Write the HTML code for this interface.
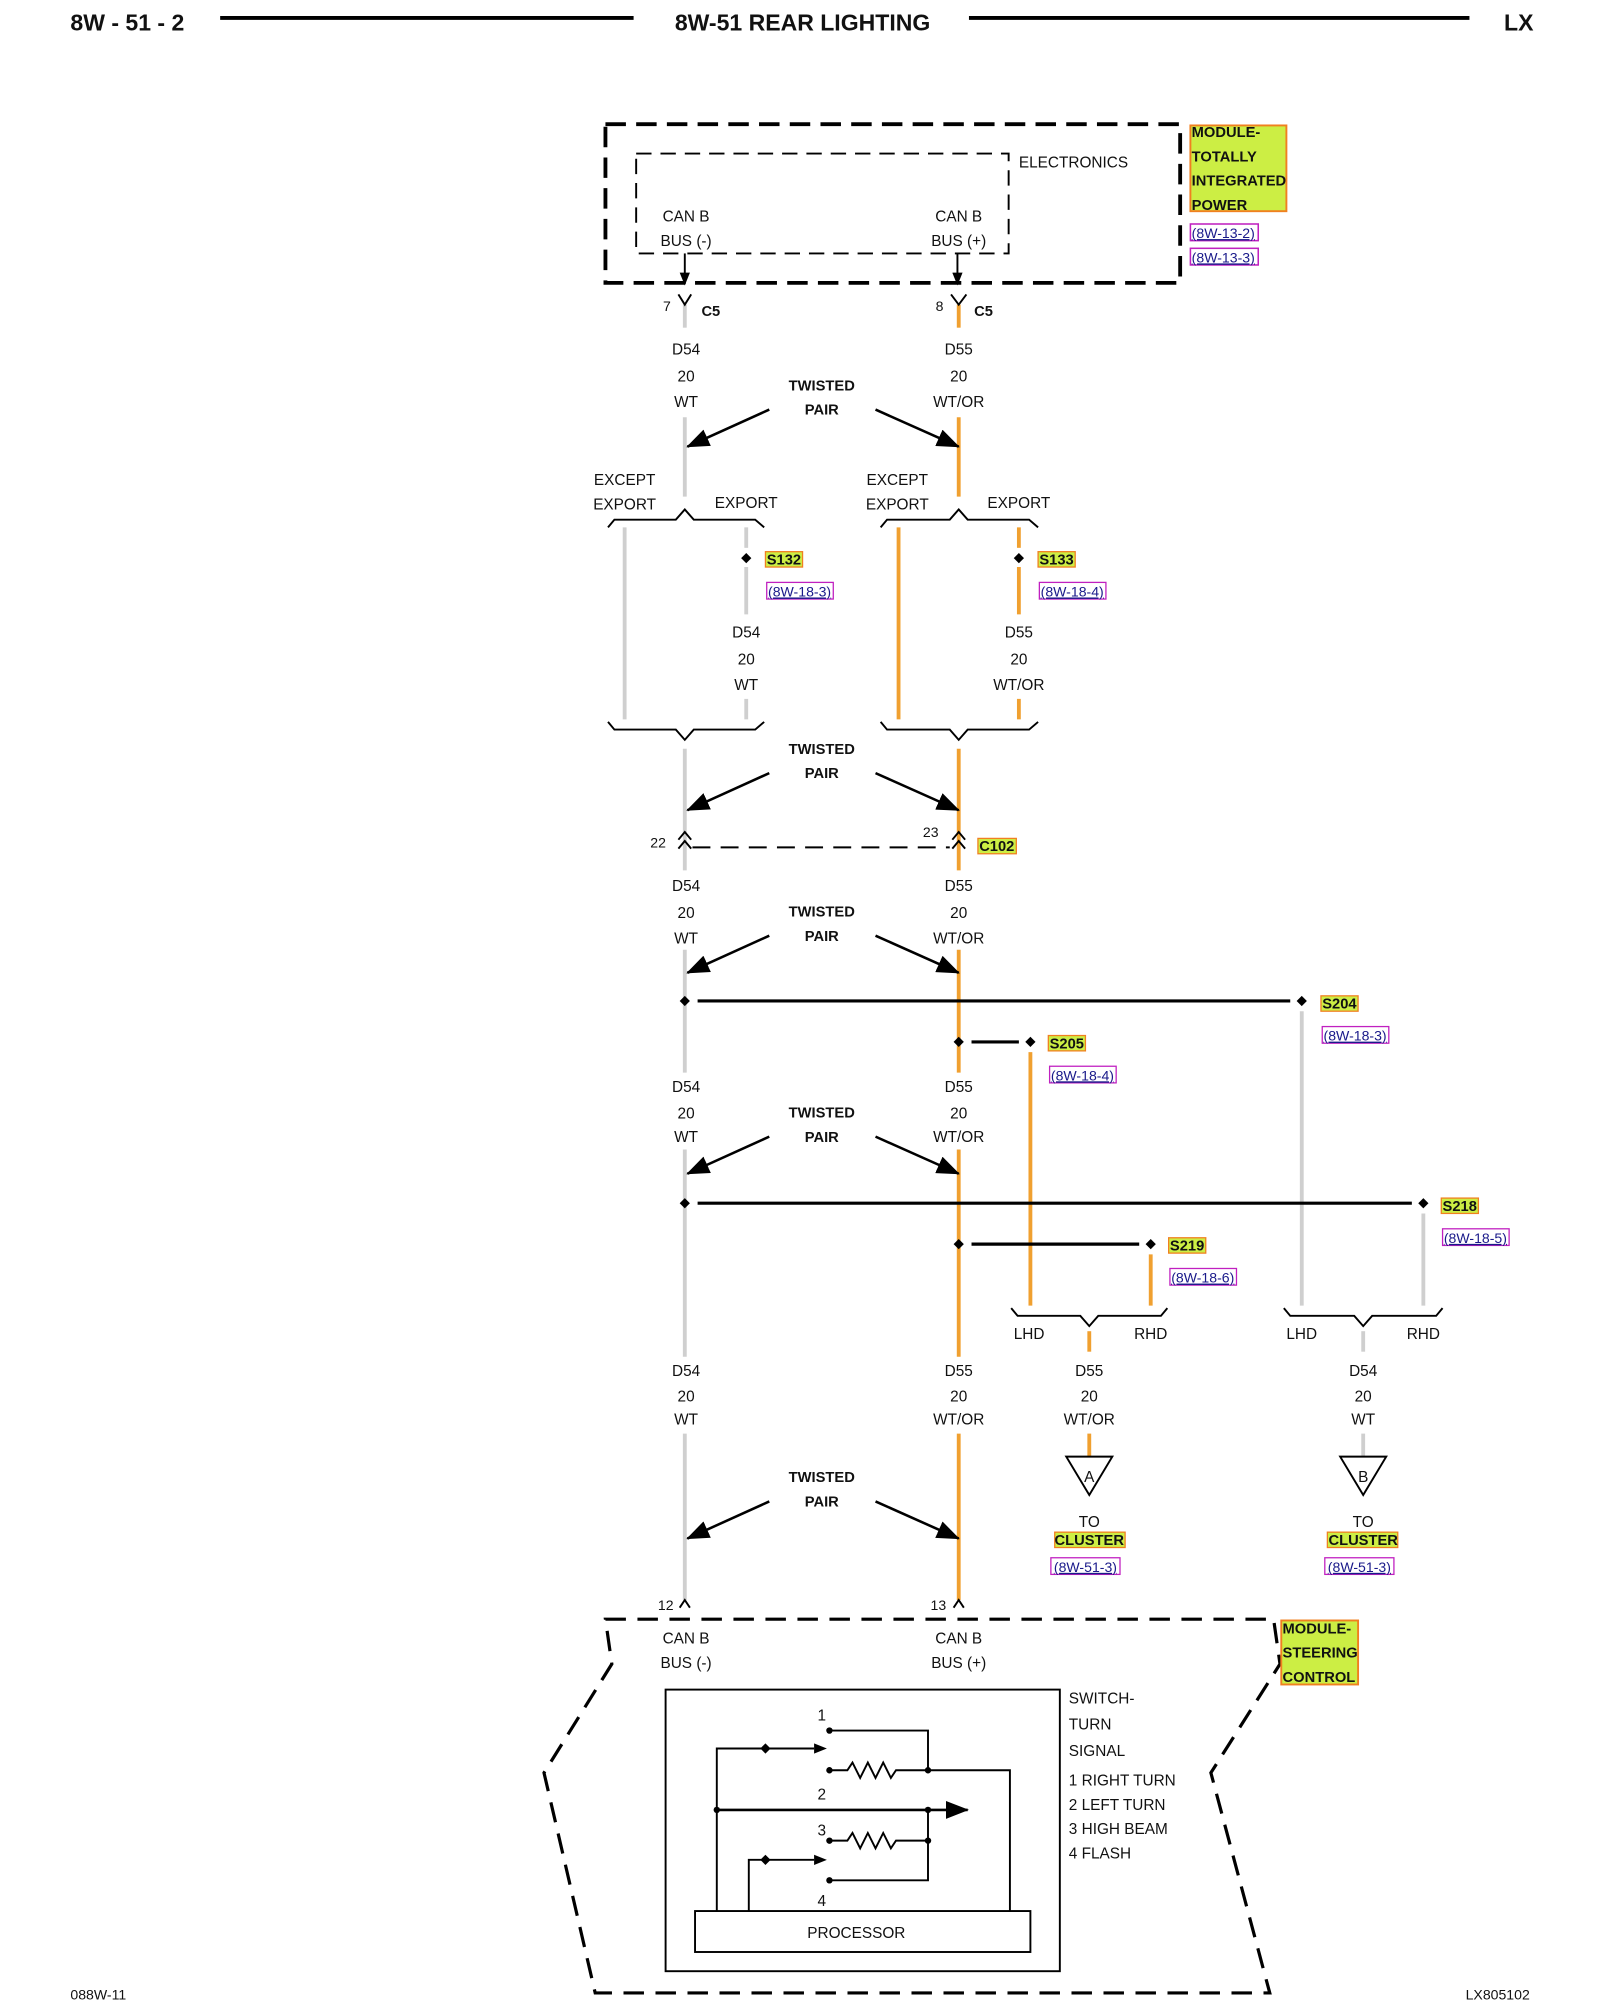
<!DOCTYPE html>
<html><head><meta charset="utf-8"><style>
html,body{margin:0;padding:0;background:#fff}
svg{display:block}
text{font-family:"Liberation Sans",sans-serif;font-size:12px;fill:#111}
.b{font-weight:bold;font-size:11.5px}
.c{text-anchor:middle}
.ref{font-size:11px;fill:#1a1a8a;text-decoration:underline}
</style></head><body>
<svg width="1600" height="2000" viewBox="0 0 1250 1562.5" xmlns="http://www.w3.org/2000/svg">
<defs>
<marker id="ah" markerWidth="10" markerHeight="8" refX="9" refY="4" orient="auto" markerUnits="userSpaceOnUse"><path d="M0,0 L10,4 L0,8z" fill="#000"/></marker>
<marker id="big" markerWidth="18" markerHeight="14" refX="17" refY="7" orient="auto" markerUnits="userSpaceOnUse"><path d="M0,0 L18,7 L0,14z" fill="#000"/></marker>
</defs>
<!-- header -->
<text x="55" y="24" style="font-size:18px;font-weight:bold">8W - 51 - 2</text>
<line x1="172" y1="14" x2="495" y2="14" stroke="#000" stroke-width="3"/>
<text x="627" y="24" class="c" style="font-size:18px;font-weight:bold">8W-51 REAR LIGHTING</text>
<line x1="757" y1="14" x2="1148" y2="14" stroke="#000" stroke-width="3"/>
<text x="1175" y="24" style="font-size:18px;font-weight:bold">LX</text>

<!-- top module -->
<rect x="473" y="97" width="449" height="124" fill="none" stroke="#000" stroke-width="3" stroke-dasharray="16,8"/>
<rect x="497" y="120" width="291" height="78" fill="none" stroke="#000" stroke-width="1.5" stroke-dasharray="12,7"/>
<text x="796" y="131">ELECTRONICS</text>
<rect x="930" y="98" width="75" height="67" fill="#ccee44" stroke="#f08020" stroke-width="1.5"/>
<text x="931" y="107" class="b">MODULE-</text>
<text x="931" y="126" class="b">TOTALLY</text>
<text x="931" y="145" class="b">INTEGRATED</text>
<text x="931" y="164" class="b">POWER</text>
<rect x="930" y="175" width="53" height="13" fill="none" stroke="#c020c0" stroke-width="1.2"/>
<text x="931" y="186" class="ref">(8W-13-2)</text>
<rect x="930" y="194" width="53" height="13" fill="none" stroke="#c020c0" stroke-width="1.2"/>
<text x="931" y="205" class="ref">(8W-13-3)</text>
<text x="536" y="173" class="c">CAN B</text><text x="536" y="192" class="c">BUS (-)</text>
<text x="749" y="173" class="c">CAN B</text><text x="749" y="192" class="c">BUS (+)</text>
<line x1="535" y1="198" x2="535" y2="222" stroke="#000" stroke-width="1.5" marker-end="url(#ah)"/>
<line x1="748" y1="198" x2="748" y2="222" stroke="#000" stroke-width="1.5" marker-end="url(#ah)"/>

<!-- main wires -->
<g stroke-width="3" fill="none">
<line x1="535" y1="238" x2="535" y2="256" stroke="#cfcfcf"/>
<line x1="749" y1="238" x2="749" y2="256" stroke="#f0a030"/>
<line x1="535" y1="326" x2="535" y2="388" stroke="#cfcfcf"/>
<line x1="749" y1="326" x2="749" y2="388" stroke="#f0a030"/>
<line x1="488" y1="412" x2="488" y2="562" stroke="#cfcfcf"/>
<line x1="583" y1="412" x2="583" y2="428" stroke="#cfcfcf"/>
<line x1="583" y1="443" x2="583" y2="480" stroke="#cfcfcf"/>
<line x1="583" y1="546" x2="583" y2="562" stroke="#cfcfcf"/>
<line x1="702" y1="412" x2="702" y2="562" stroke="#f0a030"/>
<line x1="796" y1="412" x2="796" y2="428" stroke="#f0a030"/>
<line x1="796" y1="443" x2="796" y2="480" stroke="#f0a030"/>
<line x1="796" y1="546" x2="796" y2="562" stroke="#f0a030"/>
<line x1="535" y1="585" x2="535" y2="680" stroke="#cfcfcf"/>
<line x1="749" y1="585" x2="749" y2="680" stroke="#f0a030"/>
<line x1="535" y1="742" x2="535" y2="838" stroke="#cfcfcf"/>
<line x1="749" y1="742" x2="749" y2="838" stroke="#f0a030"/>
<line x1="535" y1="898" x2="535" y2="1060" stroke="#cfcfcf"/>
<line x1="749" y1="898" x2="749" y2="1060" stroke="#f0a030"/>
<line x1="535" y1="1120" x2="535" y2="1250" stroke="#cfcfcf"/>
<line x1="749" y1="1120" x2="749" y2="1250" stroke="#f0a030"/>
<line x1="1017" y1="790" x2="1017" y2="1020" stroke="#cfcfcf"/>
<line x1="805" y1="822" x2="805" y2="1020" stroke="#f0a030"/>
<line x1="1112" y1="948" x2="1112" y2="1020" stroke="#cfcfcf"/>
<line x1="899" y1="980" x2="899" y2="1020" stroke="#f0a030"/>
<line x1="851" y1="1040" x2="851" y2="1056" stroke="#f0a030"/>
<line x1="1065" y1="1040" x2="1065" y2="1056" stroke="#cfcfcf"/>
<line x1="851" y1="1120" x2="851" y2="1138" stroke="#f0a030"/>
<line x1="1065" y1="1120" x2="1065" y2="1138" stroke="#cfcfcf"/>
</g>

<!-- C5 connectors -->
<g stroke="#000" stroke-width="1.5" fill="none">
<path d="M530,230 L535,238 L540,230"/><path d="M743,230 L749,238 L755,230"/>
</g>
<text x="518" y="243" style="font-size:11px">7</text><text x="548" y="247" class="b">C5</text>
<text x="731" y="243" style="font-size:11px">8</text><text x="761" y="247" class="b">C5</text>

<!-- wire labels -->
<g class="c">
<text x="536" y="277" class="c">D54</text><text x="536" y="298" class="c">20</text><text x="536" y="318" class="c">WT</text>
<text x="749" y="277" class="c">D55</text><text x="749" y="298" class="c">20</text><text x="749" y="318" class="c">WT/OR</text>
<text x="583" y="498" class="c">D54</text><text x="583" y="519" class="c">20</text><text x="583" y="539" class="c">WT</text>
<text x="796" y="498" class="c">D55</text><text x="796" y="519" class="c">20</text><text x="796" y="539" class="c">WT/OR</text>
<text x="536" y="696" class="c">D54</text><text x="536" y="717" class="c">20</text><text x="536" y="737" class="c">WT</text>
<text x="749" y="696" class="c">D55</text><text x="749" y="717" class="c">20</text><text x="749" y="737" class="c">WT/OR</text>
<text x="536" y="853" class="c">D54</text><text x="536" y="874" class="c">20</text><text x="536" y="892" class="c">WT</text>
<text x="749" y="853" class="c">D55</text><text x="749" y="874" class="c">20</text><text x="749" y="892" class="c">WT/OR</text>
<text x="536" y="1075" class="c">D54</text><text x="536" y="1095" class="c">20</text><text x="536" y="1113" class="c">WT</text>
<text x="749" y="1075" class="c">D55</text><text x="749" y="1095" class="c">20</text><text x="749" y="1113" class="c">WT/OR</text>
<text x="851" y="1075" class="c">D55</text><text x="851" y="1095" class="c">20</text><text x="851" y="1113" class="c">WT/OR</text>
<text x="1065" y="1075" class="c">D54</text><text x="1065" y="1095" class="c">20</text><text x="1065" y="1113" class="c">WT</text>
</g>

<!-- twisted pairs -->
<g stroke="#000" stroke-width="2">
<line x1="601" y1="320" x2="537" y2="349" marker-end="url(#big)"/><line x1="684" y1="320" x2="749" y2="349" marker-end="url(#big)"/>
<line x1="601" y1="604" x2="537" y2="633" marker-end="url(#big)"/><line x1="684" y1="604" x2="749" y2="633" marker-end="url(#big)"/>
<line x1="601" y1="731" x2="537" y2="760" marker-end="url(#big)"/><line x1="684" y1="731" x2="749" y2="760" marker-end="url(#big)"/>
<line x1="601" y1="888" x2="537" y2="917" marker-end="url(#big)"/><line x1="684" y1="888" x2="749" y2="917" marker-end="url(#big)"/>
<line x1="601" y1="1173" x2="537" y2="1202" marker-end="url(#big)"/><line x1="684" y1="1173" x2="749" y2="1202" marker-end="url(#big)"/>
</g>
<g class="b">
<text x="642" y="305" class="b c">TWISTED</text><text x="642" y="324" class="b c">PAIR</text>
<text x="642" y="589" class="b c">TWISTED</text><text x="642" y="608" class="b c">PAIR</text>
<text x="642" y="716" class="b c">TWISTED</text><text x="642" y="735" class="b c">PAIR</text>
<text x="642" y="873" class="b c">TWISTED</text><text x="642" y="892" class="b c">PAIR</text>
<text x="642" y="1158" class="b c">TWISTED</text><text x="642" y="1177" class="b c">PAIR</text>
</g>

<!-- export forks -->
<text x="488" y="379" class="c">EXCEPT</text><text x="488" y="398" class="c">EXPORT</text><text x="583" y="397" class="c">EXPORT</text>
<text x="701" y="379" class="c">EXCEPT</text><text x="701" y="398" class="c">EXPORT</text><text x="796" y="397" class="c">EXPORT</text>
<g stroke="#000" stroke-width="1.5" fill="none">
<path d="M475,412 L480,406 L528,406 L535,398 L542,406 L590,406 L597,412"/>
<path d="M688,412 L693,406 L742,406 L749,398 L756,406 L804,406 L811,412"/>
<path d="M475,564 L480,570 L528,570 L535,578 L542,570 L590,570 L597,564"/>
<path d="M688,564 L693,570 L742,570 L749,578 L756,570 L804,570 L811,564"/>
<path d="M790,1022 L795,1028 L844,1028 L851,1036 L858,1028 L907,1028 L912,1022"/>
<path d="M1003,1022 L1008,1028 L1058,1028 L1065,1036 L1072,1028 L1122,1028 L1127,1022"/>
</g>

<!-- splices -->
<g fill="#000">
<path d="M583,432 l4,4 l-4,4 l-4,-4z"/><path d="M796,432 l4,4 l-4,4 l-4,-4z"/>
<path d="M535,778 l4,4 l-4,4 l-4,-4z"/><path d="M1017,778 l4,4 l-4,4 l-4,-4z"/>
<path d="M749,810 l4,4 l-4,4 l-4,-4z"/><path d="M805,810 l4,4 l-4,4 l-4,-4z"/>
<path d="M535,936 l4,4 l-4,4 l-4,-4z"/><path d="M1112,936 l4,4 l-4,4 l-4,-4z"/>
<path d="M749,968 l4,4 l-4,4 l-4,-4z"/><path d="M899,968 l4,4 l-4,4 l-4,-4z"/>
</g>
<g stroke="#000" stroke-width="2.5">
<line x1="545" y1="782" x2="1008" y2="782"/>
<line x1="759" y1="814" x2="796" y2="814"/>
<line x1="545" y1="940" x2="1103" y2="940"/>
<line x1="759" y1="972" x2="890" y2="972"/>
</g>
<g>
<rect x="598" y="431" width="29" height="12" fill="#ccee44" stroke="#f08020"/><text x="599" y="441" class="b">S132</text>
<rect x="599" y="455" width="52" height="13" fill="none" stroke="#c020c0"/><text x="600" y="466" class="ref">(8W-18-3)</text>
<rect x="811" y="431" width="29" height="12" fill="#ccee44" stroke="#f08020"/><text x="812" y="441" class="b">S133</text>
<rect x="812" y="455" width="52" height="13" fill="none" stroke="#c020c0"/><text x="813" y="466" class="ref">(8W-18-4)</text>
<rect x="764" y="655" width="30" height="12" fill="#ccee44" stroke="#f08020"/><text x="765" y="665" class="b">C102</text>
<rect x="1032" y="778" width="29" height="12" fill="#ccee44" stroke="#f08020"/><text x="1033" y="788" class="b">S204</text>
<rect x="1033" y="802" width="52" height="13" fill="none" stroke="#c020c0"/><text x="1034" y="813" class="ref">(8W-18-3)</text>
<rect x="819" y="809" width="29" height="12" fill="#ccee44" stroke="#f08020"/><text x="820" y="819" class="b">S205</text>
<rect x="820" y="833" width="52" height="13" fill="none" stroke="#c020c0"/><text x="821" y="844" class="ref">(8W-18-4)</text>
<rect x="1126" y="936" width="29" height="12" fill="#ccee44" stroke="#f08020"/><text x="1127" y="946" class="b">S218</text>
<rect x="1127" y="960" width="52" height="13" fill="none" stroke="#c020c0"/><text x="1128" y="971" class="ref">(8W-18-5)</text>
<rect x="913" y="967" width="29" height="12" fill="#ccee44" stroke="#f08020"/><text x="914" y="977" class="b">S219</text>
<rect x="914" y="991" width="52" height="13" fill="none" stroke="#c020c0"/><text x="915" y="1002" class="ref">(8W-18-6)</text>
</g>

<!-- C102 -->
<g stroke="#000" stroke-width="1.5" fill="none">
<path d="M530,656 L535,650 L540,656 M530,663 L535,657 L540,663"/>
<path d="M744,656 L749,650 L754,656 M744,663 L749,657 L754,663"/>
<line x1="541" y1="662" x2="742" y2="662" stroke-dasharray="14,8"/>
<path d="M531,1256 L535,1250 L539,1256"/><path d="M745,1256 L749,1250 L753,1256"/>
</g>
<text x="508" y="662" style="font-size:11px">22</text><text x="721" y="654" style="font-size:11px">23</text>
<text x="514" y="1258" style="font-size:11px">12</text><text x="727" y="1258" style="font-size:11px">13</text>

<text x="804" y="1046" class="c">LHD</text><text x="899" y="1046" class="c">RHD</text>
<text x="1017" y="1046" class="c">LHD</text><text x="1112" y="1046" class="c">RHD</text>

<!-- triangles -->
<g stroke="#000" stroke-width="1.5" fill="#fff">
<path d="M833,1138 L869,1138 L851,1168z"/><path d="M1047,1138 L1083,1138 L1065,1168z"/>
</g>
<text x="851" y="1158" class="c">A</text><text x="1065" y="1158" class="c">B</text>
<text x="851" y="1193" class="c">TO</text><text x="1065" y="1193" class="c">TO</text>
<rect x="824" y="1197" width="55" height="12" fill="#ccee44" stroke="#f08020"/><text x="851" y="1207" class="b c">CLUSTER</text>
<rect x="1037" y="1197" width="55" height="12" fill="#ccee44" stroke="#f08020"/><text x="1065" y="1207" class="b c">CLUSTER</text>
<rect x="821" y="1217" width="54" height="13" fill="none" stroke="#c020c0"/><text x="848" y="1228" class="ref c">(8W-51-3)</text>
<rect x="1035" y="1217" width="54" height="13" fill="none" stroke="#c020c0"/><text x="1062" y="1228" class="ref c">(8W-51-3)</text>

<!-- bottom module -->
<path d="M473,1265 L995,1265 L1000,1300 L946,1385 L992,1557 L465,1557 L425,1385 L478,1300 Z" fill="none" stroke="#000" stroke-width="2.5" stroke-dasharray="16,9"/>
<rect x="1001" y="1266" width="60" height="50" fill="#ccee44" stroke="#f08020" stroke-width="1.5"/>
<text x="1002" y="1276" class="b">MODULE-</text><text x="1002" y="1295" class="b">STEERING</text><text x="1002" y="1314" class="b">CONTROL</text>
<text x="536" y="1284" class="c">CAN B</text><text x="536" y="1303" class="c">BUS (-)</text>
<text x="749" y="1284" class="c">CAN B</text><text x="749" y="1303" class="c">BUS (+)</text>
<rect x="520" y="1320" width="308" height="220" fill="none" stroke="#000" stroke-width="1.5"/>
<rect x="543" y="1493" width="262" height="32" fill="none" stroke="#000" stroke-width="1.5"/>
<text x="669" y="1514" class="c">PROCESSOR</text>
<g stroke="#000" stroke-width="1.5" fill="none">
<path d="M648,1352 L725,1352 L725,1383"/>
<path d="M560,1493 L560,1366 L636,1366"/>
<path d="M648,1383 L662,1383 l4,-6 l6,12 l6,-12 l6,12 l6,-12 l6,12 l4,-6 L789,1383 L789,1493"/>
<line x1="560" y1="1414" x2="756" y2="1414" stroke-width="2" marker-end="url(#big)"/>
<path d="M725,1414 L725,1469 L648,1469"/>
<path d="M648,1438 L662,1438 l4,-6 l6,12 l6,-12 l6,12 l6,-12 l6,12 l4,-6 L725,1438"/>
<path d="M585,1493 L585,1453 L636,1453"/>
</g>
<g fill="#000">
<path d="M636,1362 l10,4 l-10,4z"/><path d="M636,1449 l10,4 l-10,4z"/>
<circle cx="648" cy="1352" r="2.5"/><circle cx="648" cy="1383" r="2.5"/><circle cx="648" cy="1438" r="2.5"/><circle cx="648" cy="1469" r="2.5"/>
<circle cx="725" cy="1383" r="2.5"/><circle cx="725" cy="1414" r="2.5"/><circle cx="725" cy="1438" r="2.5"/><circle cx="560" cy="1414" r="2.5"/>
<path d="M598,1362 l4,4 l-4,4 l-4,-4z"/><path d="M598,1449 l4,4 l-4,4 l-4,-4z"/>
</g>
<text x="642" y="1344" class="c">1</text><text x="642" y="1406" class="c">2</text><text x="642" y="1434" class="c">3</text><text x="642" y="1489" class="c">4</text>
<text x="835" y="1331">SWITCH-</text><text x="835" y="1351">TURN</text><text x="835" y="1372">SIGNAL</text>
<text x="835" y="1395">1 RIGHT TURN</text><text x="835" y="1414">2 LEFT TURN</text><text x="835" y="1433">3 HIGH BEAM</text><text x="835" y="1452">4 FLASH</text>

<text x="55" y="1562" style="font-size:11px">088W-11</text>
<text x="1145" y="1562" style="font-size:11px">LX805102</text>
</svg>
</body></html>
